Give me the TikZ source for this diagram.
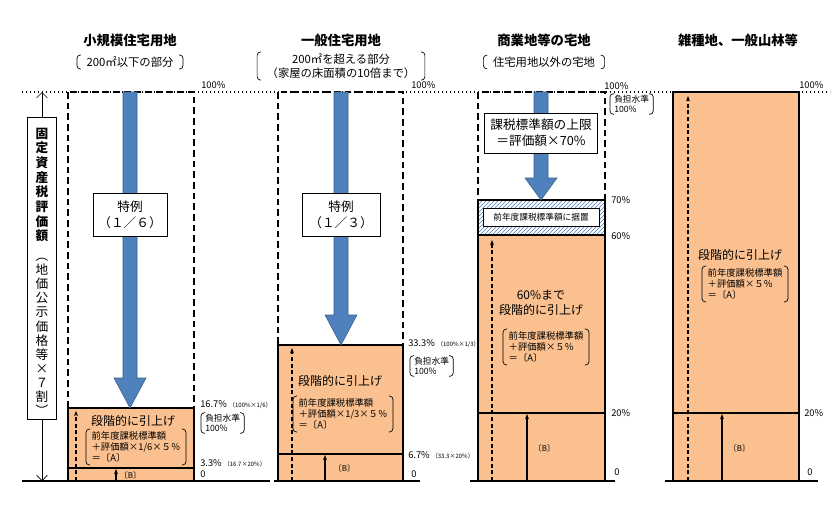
\documentclass[tikz,border=0pt]{standalone}
\usepackage{fontspec}
\setmainfont{Noto Sans CJK JP}
\usetikzlibrary{patterns,arrows.meta}

\definecolor{landfill}{RGB}{250,192,143}
\definecolor{arrowblue}{RGB}{79,129,189}
\definecolor{arrowedge}{RGB}{56,93,138}

\tikzset{
  col/.style={draw=black,line width=1.8pt,fill=landfill},
  dashbox/.style={draw=black,line width=0.8pt,dash pattern=on 5pt off 3pt},
  lbl/.style={draw=black,fill=white,line width=0.6pt,align=center,font=\fontsize{9.5}{12}\selectfont,inner sep=3pt},
  pct/.style={anchor=west,inner sep=0.75pt,font=\fontsize{7}{8}\selectfont},
  note/.style={anchor=west,inner xsep=3pt,inner ysep=1pt,font=\fontsize{6.5}{7.5}\selectfont},
  head/.style={font=\bfseries\fontsize{10}{12}\selectfont},
  sub/.style={font=\fontsize{8.5}{10.5}\selectfont,inner xsep=7pt,inner ysep=1pt},
  formula/.style={align=left,font=\fontsize{7}{8.5}\selectfont,inner xsep=4pt,inner ysep=1.5pt},
  raise/.style={align=center,font=\fontsize{9}{11}\selectfont},
  up/.style={-{Stealth[length=4pt]},line width=0.9pt},
  dup/.style={-{Stealth[length=4pt]},line width=0.9pt,dash pattern=on 3pt off 2pt},
}
% big blue arrow: x, top y, head y, tip y
\newcommand{\bigarrow}[4]{%
  \fill[arrowblue,draw=arrowedge,line width=0.4pt] (#1-7,#2) -- (#1+7,#2) -- (#1+7,#3) -- (#1+16,#3)
    -- (#1,#4) -- (#1-16,#3) -- (#1-7,#3) -- cycle;}
% parentheses round a node
\newcommand{\paren}[1]{%
  \draw[line width=0.5pt,rounded corners=2.5pt] ([xshift=3pt]#1.north west) -- (#1.north west) -- (#1.south west) -- ([xshift=3pt]#1.south west);
  \draw[line width=0.5pt,rounded corners=2.5pt] ([xshift=-3pt]#1.north east) -- (#1.north east) -- (#1.south east) -- ([xshift=-3pt]#1.south east);}

\begin{document}
\begin{tikzpicture}[x=0.75pt,y=0.75pt,yscale=-1,xscale=1]
    \useasboundingbox (0,0) rectangle (834,511);

    % top level and base line
    \draw[line width=1pt,dotted] (22,92) -- (830,92);
    \draw[line width=1.8pt] (22,481) -- (270,481);
    \draw[line width=1.8pt] (274,481) -- (420,481);
    \draw[line width=1.8pt] (470,481) -- (615,481);
    \draw[line width=1.8pt] (665,481) -- (818,481);

    % vertical axis
    \node[draw=black,fill=white,line width=0.6pt,minimum width=29pt*0.75,minimum height=302pt*0.75,inner sep=0pt] (axis) at (42,268) {};
    \node[align=center,font=\bfseries\fontsize{9.5}{11}\selectfont,inner sep=0pt] at (42,185) {固\\定\\資\\産\\税\\評\\価\\額};
    \node[align=center,font=\fontsize{9.5}{10.6}\selectfont,inner sep=0pt] at (42,337) {︵\\地\\価\\公\\示\\価\\格\\等\\×\\７\\割\\︶};
    \coordinate (axtop) at (42,92);
    \coordinate (axbot) at (42,481);
    \draw[-{Straight Barb[length=4pt]},line width=0.5pt] (axis.north) -- (axtop);
    \draw[-{Straight Barb[length=4pt]},line width=0.5pt] (axis.south) -- (axbot);

    % headings
    \node[head] (h1) at (130,40) {小規模住宅用地};
    \node[head] (h2) at (341,40) {一般住宅用地};
    \node[head] (h3) at (544,40) {商業地等の宅地};
    \node[head] (h4) at (738,40) {雑種地、一般山林等};
    \node[sub] (s1) at (130,62) {200㎡以下の部分};
    \paren{s1}
    \node[sub,align=center] (s2) at (341,66) {200㎡を超える部分\\（家屋の床面積の10倍まで）};
    \paren{s2}
    \node[sub] (s3) at (544,62) {住宅用地以外の宅地};
    \paren{s3}

    % column 1
    \draw[dashbox] (68,92) rectangle (194,408);
    \draw[col] (68,408) rectangle (194,481);
    \draw[line width=1.5pt] (68,468) -- (194,468);
    \bigarrow{130}{92}{378}{408}
    \node[lbl,minimum width=74pt*0.75,minimum height=43pt*0.75] (t1) at (130,215) {特例\\（１／６）};
    \node[raise] (g1) at (133,421) {段階的に引上げ};
    \node[formula] (f1) at (136,447) {前年度課税標準額\\＋評価額×1/6×５％\\＝〔A〕};
    \paren{f1}
    \coordinate (d1a) at (76,481); \coordinate (d1b) at (76,411);
    \draw[dup] (d1a) -- (d1b);
    \coordinate (b1a) at (116,481); \coordinate (b1b) at (116,469);
    \draw[up] (b1a) -- (b1b);
    \node[font=\fontsize{6}{7}\selectfont,anchor=west,inner sep=0.5pt] at (119,475) {〔B〕};
    \node[pct] at (200,85) {100\%};
    \node[pct] at (199,405) {16.7\% {\fontsize{4.5}{5}\selectfont（100\%×1/6）}};
    \node[note,align=left] (n1) at (201,423) {負担水準\\100\%};
    \paren{n1}
    \node[pct] at (199,463) {3.3\% {\fontsize{4.5}{5}\selectfont（16.7×20\%）}};
    \node[pct] at (199,474) {0};

    % column 2
    \draw[dashbox] (278,92) rectangle (403,345);
    \draw[col] (278,345) rectangle (403,481);
    \draw[line width=1.5pt] (278,454) -- (403,454);
    \bigarrow{341}{92}{315}{345}
    \node[lbl,minimum width=78pt*0.75,minimum height=43pt*0.75] (t2) at (341,215) {特例\\（１／３）};
    \node[raise] (g2) at (340,381) {段階的に引上げ};
    \node[formula] (f2) at (343,414) {前年度課税標準額\\＋評価額×1/3×５％\\＝〔A〕};
    \paren{f2}
    \coordinate (d2a) at (292,481); \coordinate (d2b) at (292,348);
    \draw[dup] (d2a) -- (d2b);
    \coordinate (b2a) at (325,481); \coordinate (b2b) at (325,455);
    \draw[up] (b2a) -- (b2b);
    \node[font=\fontsize{6}{7}\selectfont,anchor=west,inner sep=0.5pt] at (333,468) {〔B〕};
    \node[pct] at (410,85) {100\%};
    \node[pct] at (407,344) {33.3\% {\fontsize{4.5}{5}\selectfont（100\%×1/3）}};
    \node[note,align=left] (n2) at (410,366) {負担水準\\100\%};
    \paren{n2}
    \node[pct] at (407,455) {6.7\% {\fontsize{4.5}{5}\selectfont（33.3×20\%）}};
    \node[pct] at (410,474) {0};

    % column 3
    \draw[dashbox] (478,92) rectangle (605,200);
    \draw[col] (478,235) rectangle (605,481);
    \draw[line width=1.8pt,pattern=north east lines,pattern color=arrowblue] (478,200) rectangle (605,235);
    \draw[line width=1.8pt] (478,200) rectangle (605,481);
    \draw[line width=1.5pt] (478,413) -- (605,413);
    \bigarrow{541}{92}{178}{200}
    \node[lbl,minimum width=113pt*0.75,minimum height=40pt*0.75] (t3) at (541,133) {課税標準額の上限\\＝評価額×70\%};
    \node[draw=black,fill=white,line width=0.5pt,minimum width=116pt*0.75,minimum height=18pt*0.75,font=\fontsize{6.5}{7}\selectfont,inner sep=1pt] (k3) at (541,217) {前年度課税標準額に据置};
    \node[raise] (g3) at (541,303) {60\%まで\\段階的に引上げ};
    \node[formula] (f3) at (546,347) {前年度課税標準額\\＋評価額×５％\\＝〔A〕};
    \paren{f3}
    \coordinate (d3a) at (492,481); \coordinate (d3b) at (492,240);
    \draw[dup] (d3a) -- (d3b);
    \coordinate (b3a) at (527,481); \coordinate (b3b) at (527,414);
    \draw[up] (b3a) -- (b3b);
    \node[font=\fontsize{6}{7}\selectfont,anchor=west,inner sep=0.5pt] at (533,448) {〔B〕};
    \node[pct] at (603,86) {100\%};
    \node[note,align=left] (n3) at (610,104) {負担水準\\100\%};
    \paren{n3}
    \node[pct] at (610,200) {70\%};
    \node[pct] at (610,236) {60\%};
    \node[pct] at (610,413) {20\%};
    \node[pct] at (613,472) {0};

    % column 4
    \draw[col] (673,92) rectangle (799,481);
    \draw[line width=1.5pt] (673,413) -- (799,413);
    \node[raise] (g4) at (740,255) {段階的に引上げ};
    \node[formula] (f4) at (745,284) {前年度課税標準額\\＋評価額×５％\\＝〔A〕};
    \paren{f4}
    \coordinate (d4a) at (688,481); \coordinate (d4b) at (688,96);
    \draw[dup] (d4a) -- (d4b);
    \coordinate (b4a) at (722,481); \coordinate (b4b) at (722,414);
    \draw[up] (b4a) -- (b4b);
    \node[font=\fontsize{6}{7}\selectfont,anchor=west,inner sep=0.5pt] at (728,448) {〔B〕};
    \node[pct] at (798,85) {100\%};
    \node[pct] at (803,413) {20\%};
    \node[pct] at (806,472) {0};
\end{tikzpicture}
\end{document}
